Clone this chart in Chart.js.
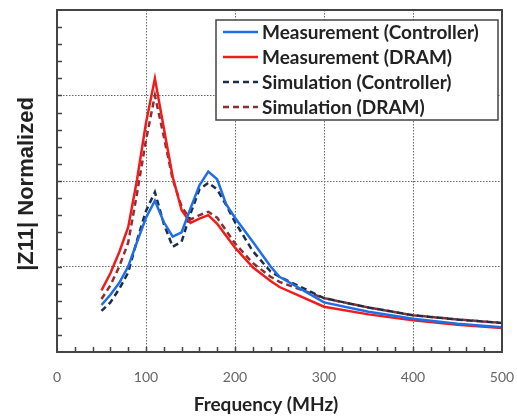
<!DOCTYPE html>
<html>
<head>
<meta charset="utf-8">
<script src="https://cdn.jsdelivr.net/npm/chart.js@4/dist/chart.umd.min.js"></script>
<style>
  html, body { margin: 0; padding: 0; background: #fff; }
</style>
</head>
<body>
<canvas id="chart" width="517" height="419"></canvas>
<script>
// frequency points (MHz)
const freq = [50, 60, 70, 80, 90, 100, 110, 120, 130, 140, 150, 160, 170, 180, 190, 200, 220, 240, 250, 300, 350, 400, 450, 500];

// |Z11| normalized
const measController = [0.55, 0.67, 0.81, 1.00, 1.29, 1.57, 1.77, 1.52, 1.35, 1.40, 1.68, 1.95, 2.11, 2.02, 1.73, 1.57, 1.29, 1.00, 0.88, 0.58, 0.47, 0.39, 0.33, 0.29];
const measDram       = [0.72, 0.92, 1.17, 1.46, 2.02, 2.68, 3.20, 2.62, 2.05, 1.66, 1.51, 1.56, 1.60, 1.50, 1.36, 1.22, 0.99, 0.83, 0.76, 0.53, 0.44, 0.37, 0.32, 0.28];
const simController  = [0.48, 0.58, 0.74, 0.93, 1.31, 1.65, 1.87, 1.50, 1.23, 1.29, 1.62, 1.90, 1.98, 1.90, 1.72, 1.52, 1.18, 0.94, 0.88, 0.63, 0.52, 0.43, 0.38, 0.34];
const simDram        = [0.62, 0.78, 1.00, 1.28, 1.86, 2.48, 3.00, 2.52, 2.02, 1.70, 1.55, 1.60, 1.64, 1.57, 1.42, 1.27, 1.04, 0.88, 0.82, 0.63, 0.52, 0.43, 0.38, 0.34];

const xTicks = [0, 100, 200, 300, 400, 500];
const xTitle = 'Frequency (MHz)';
const yTitle = '|Z11| Normalized';

const pts = arr => freq.map((f, i) => ({ x: f, y: arr[i] }));
const isMajor = (v, step) => Math.abs(v / step - Math.round(v / step)) < 1e-6;

// frame, inner minor ticks, axis titles and the boxed legend
const decor = {
  id: 'decor',
  afterDraw(chart) {
    const { ctx, chartArea: a, scales: { x, y } } = chart;
    ctx.save();
    ctx.strokeStyle = '#444';
    ctx.lineWidth = 1.5;
    ctx.beginPath();
    for (let v = 20; v < 500; v += 20) {
      const px = Math.round(x.getPixelForValue(v)) + 0.5;
      ctx.moveTo(px, a.bottom);
      ctx.lineTo(px, a.bottom - 5);
    }
    for (let v = 0.2; v < 4; v += 0.2) {
      const py = Math.round(y.getPixelForValue(v)) + 0.5;
      ctx.moveTo(a.left, py);
      ctx.lineTo(a.left + 5, py);
    }
    ctx.stroke();

    ctx.lineWidth = 2;
    ctx.strokeRect(a.left, a.top, a.right - a.left, a.bottom - a.top);

    // axis titles
    ctx.fillStyle = '#222';
    ctx.textAlign = 'center';
    ctx.textBaseline = 'middle';
    ctx.font = 'bold 19px Lato';
    ctx.fillText(xTitle, 266, 405);
    ctx.save();
    ctx.translate(27, 184);
    ctx.rotate(-Math.PI / 2);
    ctx.font = 'bold 22px "Liberation Sans"';
    ctx.fillText(yTitle, 0, 0);
    ctx.restore();

    // legend
    const bx = 216, by = 20, bw = 282, bh = 100;
    ctx.fillStyle = '#fff';
    ctx.fillRect(bx, by, bw, bh);
    ctx.strokeStyle = '#444';
    ctx.lineWidth = 1.5;
    ctx.strokeRect(bx, by, bw, bh);
    ctx.font = 'bold 19px Lato';
    ctx.textAlign = 'left';
    chart.data.datasets.forEach((ds, i) => {
      const ly = by + 12 + i * 25;
      ctx.strokeStyle = ds.borderColor;
      ctx.lineWidth = 2.5;
      ctx.setLineDash(ds.borderDash || []);
      ctx.beginPath();
      ctx.moveTo(bx + 7, ly);
      ctx.lineTo(bx + 42, ly);
      ctx.stroke();
      ctx.setLineDash([]);
      ctx.fillStyle = '#222';
      ctx.fillText(ds.label, bx + 46, ly + 1);
    });
    ctx.restore();
  }
};

new Chart(document.getElementById('chart'), {
  type: 'line',
  data: {
    datasets: [
      { label: 'Measurement (Controller)', data: pts(measController), borderColor: '#1e6ee8', borderWidth: 2.5 },
      { label: 'Measurement (DRAM)', data: pts(measDram), borderColor: '#f01c1c', borderWidth: 2.5 },
      { label: 'Simulation (Controller)', data: pts(simController), borderColor: '#1c2d4c', borderWidth: 2.5, borderDash: [6, 4] },
      { label: 'Simulation (DRAM)', data: pts(simDram), borderColor: '#8e2f2f', borderWidth: 2.5, borderDash: [6, 4] }
    ]
  },
  options: {
    responsive: false,
    animation: false,
    layout: { padding: { top: 10, right: 15, left: 0, bottom: 0 } },
    elements: { point: { radius: 0 }, line: { tension: 0 } },
    plugins: { legend: { display: false }, tooltip: { enabled: false } },
    scales: {
      x: {
        type: 'linear',
        min: 0,
        max: 500,
        afterFit: s => { s.height = 67; s.paddingLeft = 0; s.paddingRight = 0; },
        afterBuildTicks: s => { s.ticks = xTicks.map(v => ({ value: v })); },
        border: { display: false, dash: [1.5, 1.5] },
        grid: {
          drawTicks: false,
          lineWidth: 1,
          color: c => (c.tick && c.tick.value > 0 && c.tick.value < 500) ? '#666' : 'transparent'
        },
        ticks: {
          padding: 17,
          color: '#666',
          font: { family: 'Lato', size: 14 },
          maxRotation: 0,
          autoSkip: false
        }
      },
      y: {
        min: 0,
        max: 4,
        afterFit: s => { s.width = 57; s.paddingTop = 0; s.paddingBottom = 0; },
        border: { display: false, dash: [1.5, 1.5] },
        grid: {
          drawTicks: false,
          lineWidth: 1,
          color: c => (c.tick && c.tick.value > 0 && c.tick.value < 4 && isMajor(c.tick.value, 1)) ? '#666' : 'transparent'
        },
        ticks: { stepSize: 1, display: false }
      }
    }
  },
  plugins: [decor]
});
</script>
</body>
</html>
